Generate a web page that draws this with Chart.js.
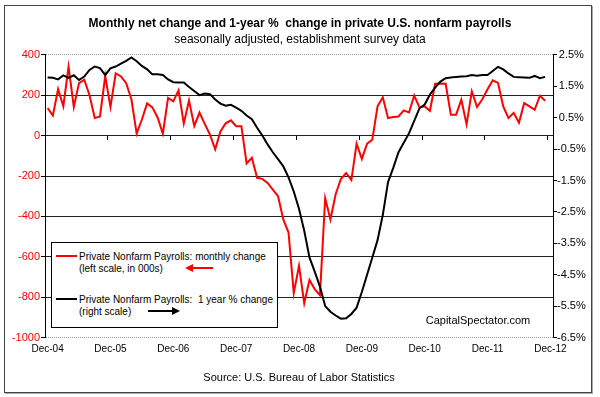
<!DOCTYPE html>
<html>
<head>
<meta charset="utf-8">
<script src="https://cdn.jsdelivr.net/npm/chart.js@4"></script>
<style>
  body { margin: 0; background: #fff; }
  #wrap { position: relative; width: 600px; height: 397px; overflow: hidden; }
  #frame { position: absolute; left: 4px; top: 5px; width: 586px; height: 386px; border: 1px solid #444; box-shadow: 1px 1px 0 #aaa; }
  canvas { position: absolute; left: 0; top: 0; }
  .txt { position: absolute; font-family: 'Liberation Sans', Arial, sans-serif; white-space: pre; color: #000; }
  #legend { position: absolute; left: 51px; top: 242px; width: 225px; height: 84px; border: 1px solid #000; background: #fff; }
  #legend .txt { font-size: 10px; line-height: 13px; left: 27px; }
  .sample { position: absolute; left: 4px; width: 21px; height: 2px; }
  svg { position: absolute; }
</style>
</head>
<body>
<div id="wrap">
  <div id="frame"></div>
  <canvas id="myChart" width="600" height="397"></canvas>
  <div id="legend">
    <div class="sample" style="top:12px;background:#ff0000;"></div>
    <div class="txt" style="top:7px;">Private Nonfarm Payrolls: monthly change</div>
    <div class="txt" style="top:19px;">(left scale, in 000s)</div>
    <svg style="left:133px;top:21px;" width="28" height="8"><line x1="6" y1="4" x2="28" y2="4" stroke="#ff0000" stroke-width="2"/><polygon points="0,4 8,0 8,8" fill="#ff0000"/></svg>
    <div class="sample" style="top:55px;background:#000;"></div>
    <div class="txt" style="top:50px;">Private Nonfarm Payrolls:  1 year % change</div>
    <div class="txt" style="top:62px;">(right scale)</div>
    <svg style="left:96px;top:64px;" width="32" height="8"><line x1="0" y1="4" x2="25" y2="4" stroke="#000" stroke-width="2"/><polygon points="32,4 24,0 24,8" fill="#000"/></svg>
  </div>
  <div class="txt" style="left:418px;top:313px;width:120px;text-align:center;font-size:11px;line-height:14px;">CapitalSpectator.com</div>
</div>
<script>
  var monthNames = ['Jan','Feb','Mar','Apr','May','Jun','Jul','Aug','Sep','Oct','Nov','Dec'];
  var tickLabels = ['Dec-04','Dec-05','Dec-06','Dec-07','Dec-08','Dec-09','Dec-10','Dec-11','Dec-12'];

  // months Dec-04 .. Dec-12
  var categories = [];
  for (var i = 0; i <= 96; i++) {
    var yr = 4 + Math.floor((11 + i) / 12);
    categories.push(monthNames[(11 + i) % 12] + '-' + (yr < 10 ? '0' + yr : yr));
  }

  // monthly net change, private payrolls (000s), Dec-04 .. Nov-12
  var monthlyChange = [
    137, 100, 230, 145, 342, 142, 260, 277, 200, 87,
    95, 295, 142, 309, 293, 260, 180, 10, 80, 160,
    140, 90, 10, 187, 170, 224, 60, 174, 48, 114,
    58, 5, -68, 21, 61, 76, 47, 47, -138, -110,
    -209, -214, -234, -267, -300, -415, -480, -780, -645, -830,
    -715, -760, -790, -310, -415, -290, -215, -185, -220, -40,
    -115, -40, -20, 145, 190, 87, 92, 95, 125, 115,
    198, 140, 145, 123, 257, 258, 257, 104, 104, 178,
    56, 219, 142, 180, 230, 274, 261, 145, 87, 113,
    64, 161, 145, 128, 198, 173
  ];

  // 1-year % change, Dec-04 .. Nov-12
  var yoyChange = [
    1.78, 1.77, 1.72, 1.85, 1.77, 1.85, 1.70, 1.81, 2.02, 2.13,
    2.08, 1.86, 2.07, 2.13, 2.22, 2.31, 2.42, 2.30, 2.15, 2.04,
    1.88, 1.88, 1.86, 1.72, 1.63, 1.62, 1.62, 1.48, 1.35, 1.22,
    1.27, 1.25, 1.08, 0.95, 0.88, 0.91, 0.82, 0.72, 0.57, 0.45,
    0.18, -0.07, -0.35, -0.60, -0.82, -1.05, -1.40, -1.85, -2.40, -3.10,
    -3.95, -4.40, -4.88, -5.50, -5.68, -5.80, -5.90, -5.89, -5.75, -5.55,
    -5.05, -4.50, -3.95, -3.40, -2.60, -1.55, -1.10, -0.60, -0.30, 0.00,
    0.40, 0.80, 0.92, 1.24, 1.46, 1.65, 1.76, 1.78, 1.80, 1.81,
    1.82, 1.86, 1.84, 1.86, 1.86, 1.99, 2.12, 2.04, 1.91, 1.80,
    1.79, 1.78, 1.77, 1.83, 1.76, 1.80
  ];

  Chart.defaults.font.family = "'Liberation Sans', Arial, sans-serif";
  Chart.defaults.color = '#000';

  function isEdge(ctx) {
    return ctx.tick && (ctx.tick.value === 400 || ctx.tick.value === -1000);
  }

  var ctx = document.getElementById('myChart').getContext('2d');
  var chart = new Chart(ctx, {
    type: 'line',
    data: {
      labels: categories,
      datasets: [{
        label: 'Private Nonfarm Payrolls: 1 year % change',
        data: yoyChange,
        xAxisID: 'x',
        yAxisID: 'yRight',
        borderColor: '#000',
        borderWidth: 2,
        pointRadius: 0,
        tension: 0,
        order: 0
      }, {
        label: 'Private Nonfarm Payrolls: monthly change',
        data: monthlyChange,
        xAxisID: 'x',
        yAxisID: 'y',
        borderColor: '#ff0000',
        borderWidth: 2,
        pointRadius: 0,
        tension: 0,
        order: 1
      }]
    },
    options: {
      responsive: false,
      animation: false,
      devicePixelRatio: 1,
      layout: { padding: 0 },
      plugins: {
        legend: { display: false },
        tooltip: { enabled: false },
        title: {
          display: true,
          text: 'Monthly net change and 1-year %  change in private U.S. nonfarm payrolls',
          font: { size: 12, weight: 'bold' },
          color: '#000',
          padding: { top: 16, bottom: 0 }
        },
        subtitle: {
          display: true,
          text: 'seasonally adjusted, establishment survey data',
          font: { size: 12 },
          color: '#000',
          padding: { top: 1.6, bottom: 8.5 }
        }
      },
      scales: {
        x: {
          type: 'category',
          axis: 'x',
          position: 'bottom',
          offset: true,
          grid: { display: false, drawTicks: false },
          border: { display: false },
          ticks: {
            autoSkip: false,
            maxRotation: 0,
            padding: 6,
            font: { size: 10 },
            color: '#000',
            callback: function(val, idx) {
              var lab = categories[idx];
              return tickLabels.indexOf(lab) >= 0 ? lab : '';
            }
          },
          title: {
            display: true,
            text: 'Source: U.S. Bureau of Labor Statistics',
            font: { size: 11 },
            color: '#000',
            padding: { top: 0, bottom: 12 }
          },
          afterFit: function(s) { s.height = 59.5; }
        },
        xZero: {
          type: 'category',
          axis: 'x',
          position: { y: 0 },
          offset: true,
          grid: {
            offset: true,
            drawOnChartArea: false,
            drawTicks: true,
            tickLength: 4,
            color: function(c) { return c.index % 12 === 0 ? '#000' : 'rgba(0,0,0,0)'; }
          },
          border: { display: false },
          ticks: { display: false }
        },
        y: {
          axis: 'y',
          position: 'left',
          min: -1000,
          max: 400,
          ticks: {
            stepSize: 200,
            color: '#ff0000',
            font: { size: 11 },
            padding: 1,
            callback: function(v) { return String(v); }
          },
          grid: {
            color: function(c) { return isEdge(c) ? '#999' : '#222'; },
            tickColor: '#000',
            tickLength: 4,
            lineWidth: 1
          },
          border: {
            color: '#000',
            dash: function(c) { return isEdge(c) ? [1, 1] : []; }
          },
          afterFit: function(s) { s.width = 45; }
        },
        yRight: {
          axis: 'y',
          position: 'right',
          min: -6.5,
          max: 2.5,
          ticks: {
            stepSize: 1,
            color: '#000',
            font: { size: 11 },
            padding: 0,
            crossAlign: 'center',
            callback: function(v) { return v.toFixed(1) + '%'; }
          },
          grid: { drawOnChartArea: false, tickLength: 4, color: '#000' },
          border: { color: '#000' },
          afterFit: function(s) { s.width = 47; }
        }
      }
    }
  });
</script>
</body>
</html>
